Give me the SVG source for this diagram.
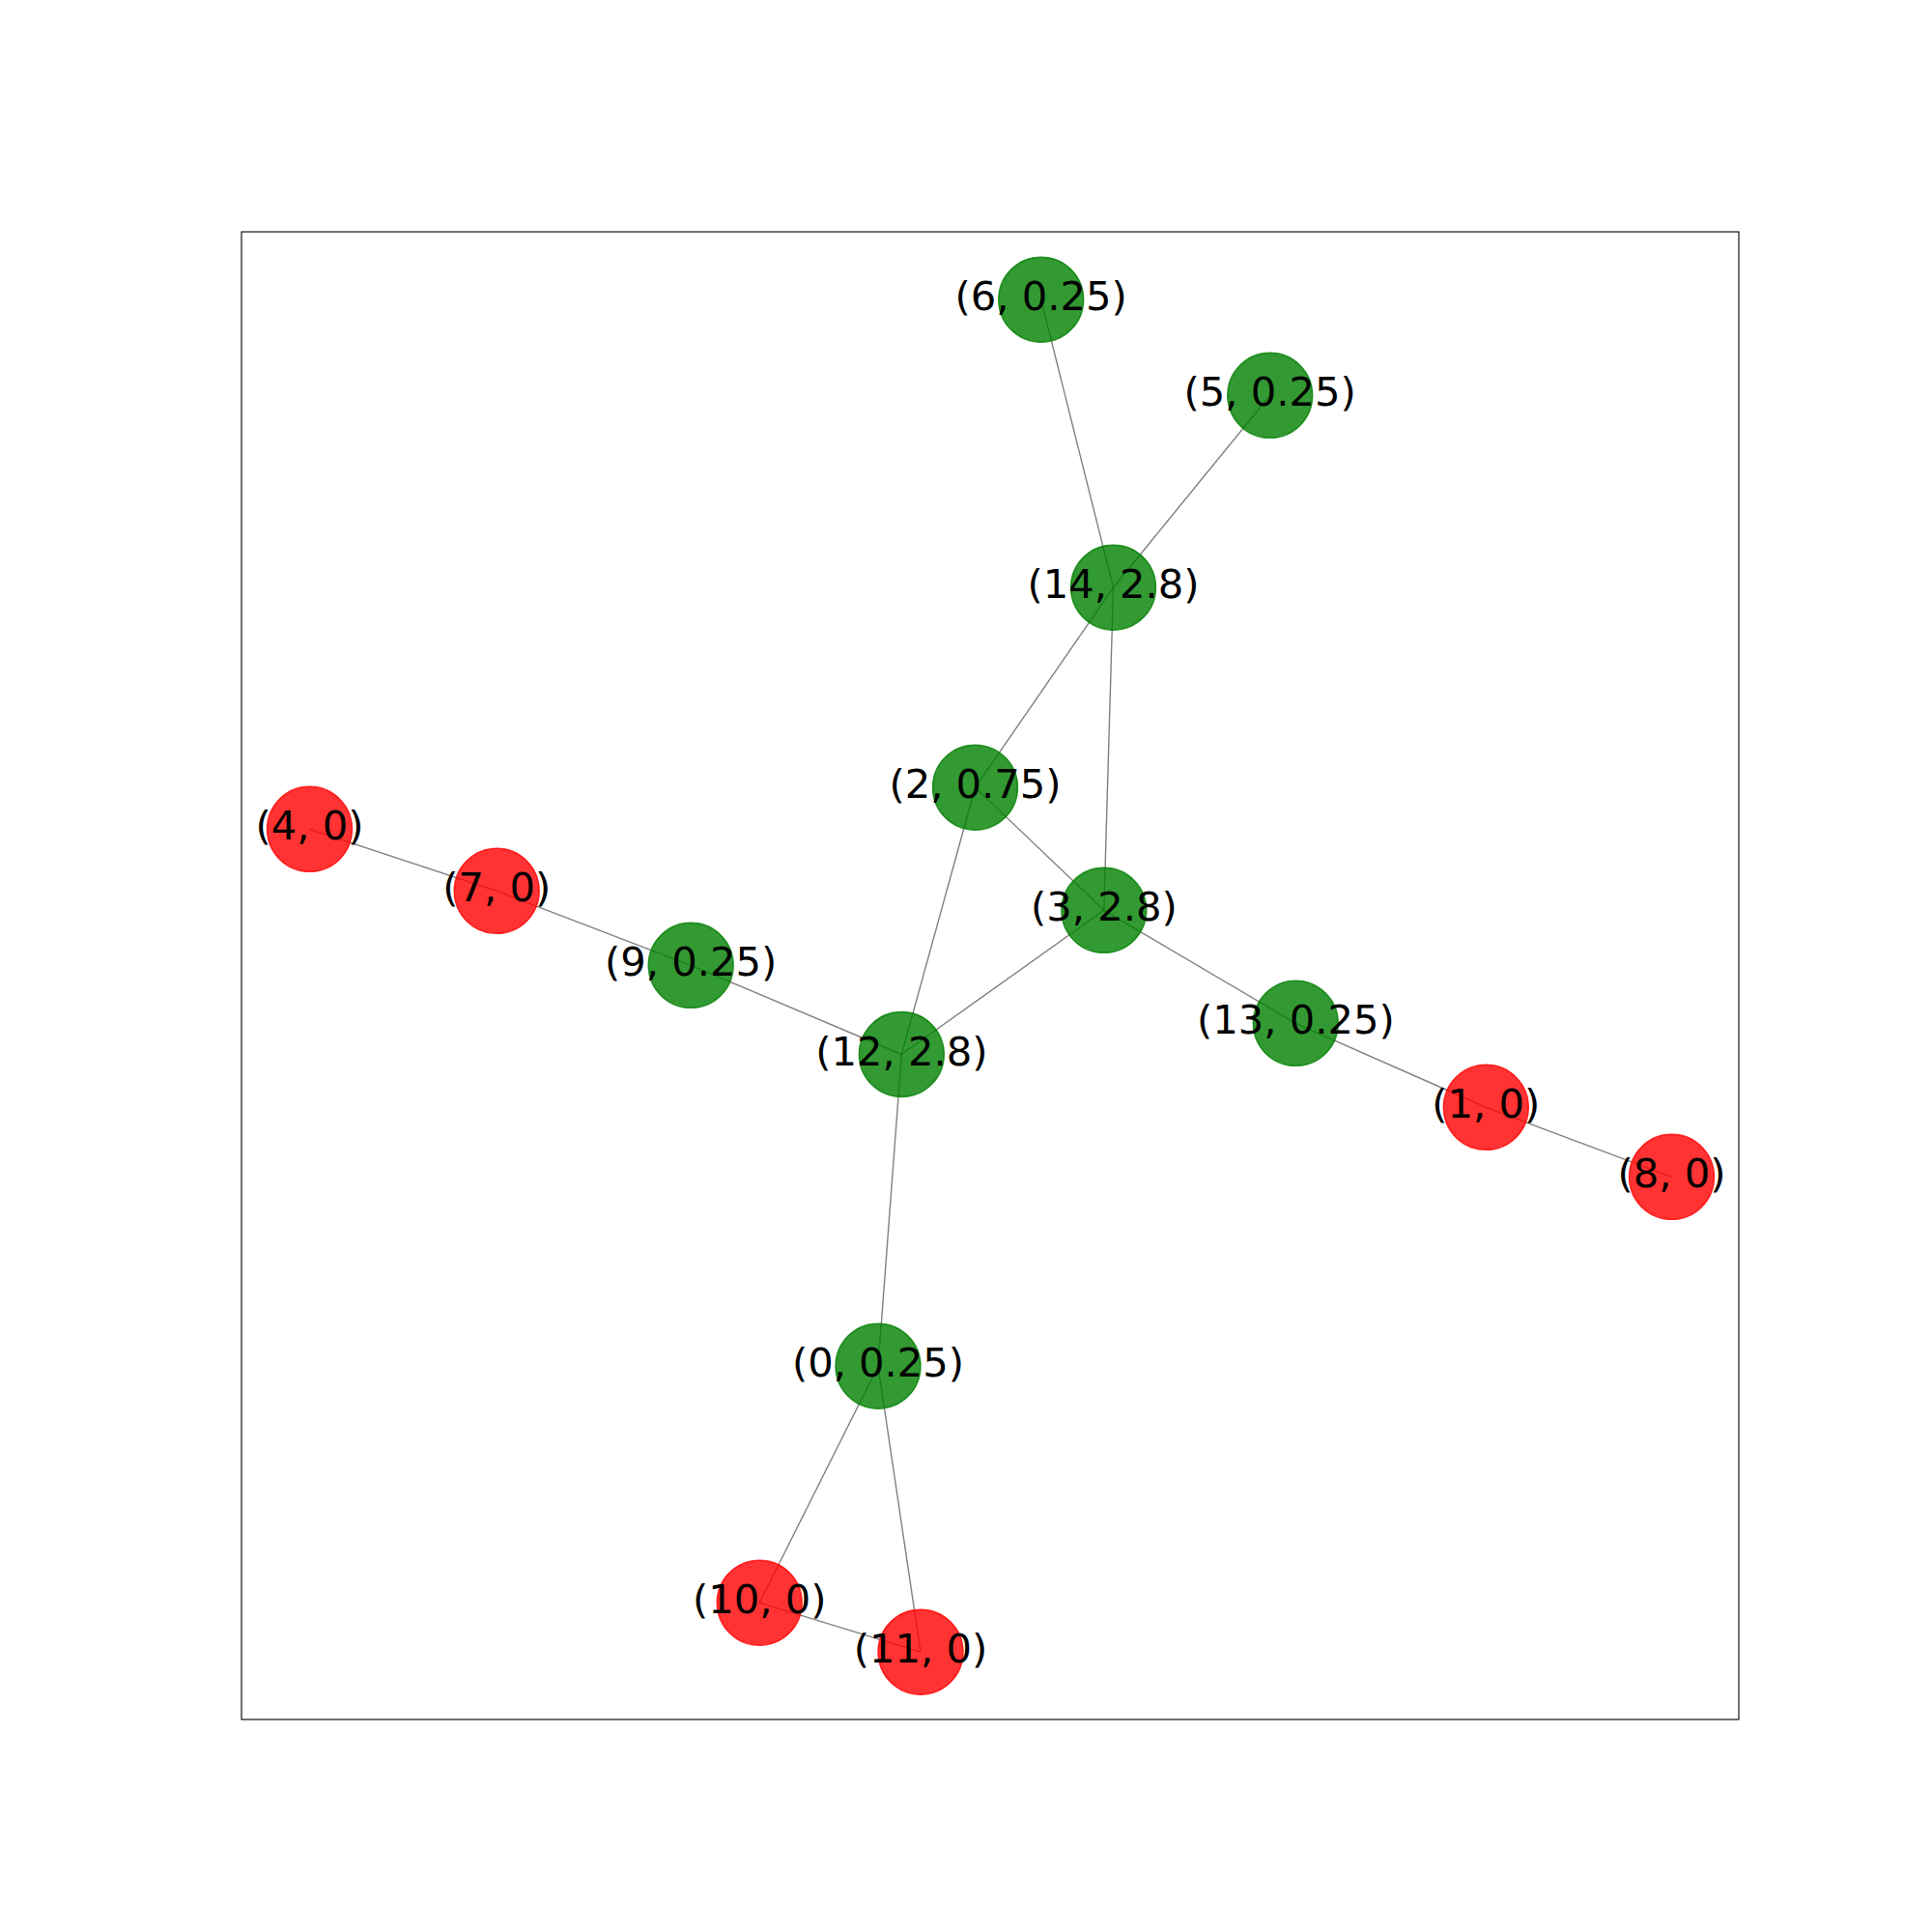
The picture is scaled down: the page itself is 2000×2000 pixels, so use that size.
<svg xmlns="http://www.w3.org/2000/svg" width="2000" height="2000" viewBox="0 0 2000 2000">
<style>
.edge{stroke:#000;stroke-opacity:0.5;stroke-width:1.39;fill:none}
.g{fill:#008000;fill-opacity:0.8;stroke:#008000;stroke-opacity:0.8;stroke-width:1.4}
.r{fill:#ff0000;fill-opacity:0.8;stroke:#ff0000;stroke-opacity:0.8;stroke-width:1.4}
text{font-family:"DejaVu Sans","Liberation Sans",sans-serif;font-size:41.67px;fill:#000;text-anchor:middle}
</style>
<rect x="0" y="0" width="2000" height="2000" fill="#fff"/>
<rect x="250" y="240" width="1550" height="1540" fill="none" stroke="#000" stroke-width="1.11"/>
<g id="edges">
<line class="edge" x1="1077.7" y1="310.2" x2="1152.5" y2="608.2"/>
<line class="edge" x1="1314.7" y1="409.3" x2="1152.5" y2="608.2"/>
<line class="edge" x1="1152.5" y1="608.2" x2="1009.5" y2="815.2"/>
<line class="edge" x1="1152.5" y1="608.2" x2="1142.8" y2="942.3"/>
<line class="edge" x1="1009.5" y1="815.2" x2="1142.8" y2="942.3"/>
<line class="edge" x1="1009.5" y1="815.2" x2="933.3" y2="1091.5"/>
<line class="edge" x1="1142.8" y1="942.3" x2="933.3" y2="1091.5"/>
<line class="edge" x1="1142.8" y1="942.3" x2="1341.3" y2="1059.3"/>
<line class="edge" x1="1341.3" y1="1059.3" x2="1538.3" y2="1146.3"/>
<line class="edge" x1="1538.3" y1="1146.3" x2="1730.5" y2="1218.3"/>
<line class="edge" x1="933.3" y1="1091.5" x2="715.2" y2="999.3"/>
<line class="edge" x1="715.2" y1="999.3" x2="514.2" y2="922.3"/>
<line class="edge" x1="514.2" y1="922.3" x2="320.5" y2="858.3"/>
<line class="edge" x1="933.3" y1="1091.5" x2="909" y2="1414.2"/>
<line class="edge" x1="909" y1="1414.2" x2="786.2" y2="1659.2"/>
<line class="edge" x1="909" y1="1414.2" x2="953" y2="1710.2"/>
<line class="edge" x1="786.2" y1="1659.2" x2="953" y2="1710.2"/>
</g>
<g id="n6"><circle class="g" cx="1077.7" cy="310.2" r="44"/></g>
<g id="n5"><circle class="g" cx="1314.7" cy="409.3" r="44"/></g>
<g id="n14"><circle class="g" cx="1152.5" cy="608.2" r="44"/></g>
<g id="n2"><circle class="g" cx="1009.5" cy="815.2" r="44"/></g>
<g id="n3"><circle class="g" cx="1142.8" cy="942.3" r="44"/></g>
<g id="n12"><circle class="g" cx="933.3" cy="1091.5" r="44"/></g>
<g id="n13"><circle class="g" cx="1341.3" cy="1059.3" r="44"/></g>
<g id="n1"><circle class="r" cx="1538.3" cy="1146.3" r="44"/></g>
<g id="n8"><circle class="r" cx="1730.5" cy="1218.3" r="44"/></g>
<g id="n9"><circle class="g" cx="715.2" cy="999.3" r="44"/></g>
<g id="n7"><circle class="r" cx="514.2" cy="922.3" r="44"/></g>
<g id="n4"><circle class="r" cx="320.5" cy="858.3" r="44"/></g>
<g id="n0"><circle class="g" cx="909" cy="1414.2" r="44"/></g>
<g id="n10"><circle class="r" cx="786.2" cy="1659.2" r="44"/></g>
<g id="n11"><circle class="r" cx="953" cy="1710.2" r="44"/></g>
<g id="labels">
<text x="1077.7" y="321">(6, 0.25)</text>
<text x="1314.7" y="420.3">(5, 0.25)</text>
<text x="1152.5" y="619.2">(14, 2.8)</text>
<text x="1009.5" y="826.2">(2, 0.75)</text>
<text x="1142.8" y="953.3">(3, 2.8)</text>
<text x="933.3" y="1102.5">(12, 2.8)</text>
<text x="1341.3" y="1070.3">(13, 0.25)</text>
<text x="1538.3" y="1157.3">(1, 0)</text>
<text x="1730.5" y="1229.3">(8, 0)</text>
<text x="715.2" y="1010.3">(9, 0.25)</text>
<text x="514.2" y="933.3">(7, 0)</text>
<text x="320.5" y="869.3">(4, 0)</text>
<text x="909" y="1425.2">(0, 0.25)</text>
<text x="786.2" y="1670.2">(10, 0)</text>
<text x="953" y="1721.2">(11, 0)</text>
</g>
</svg>
